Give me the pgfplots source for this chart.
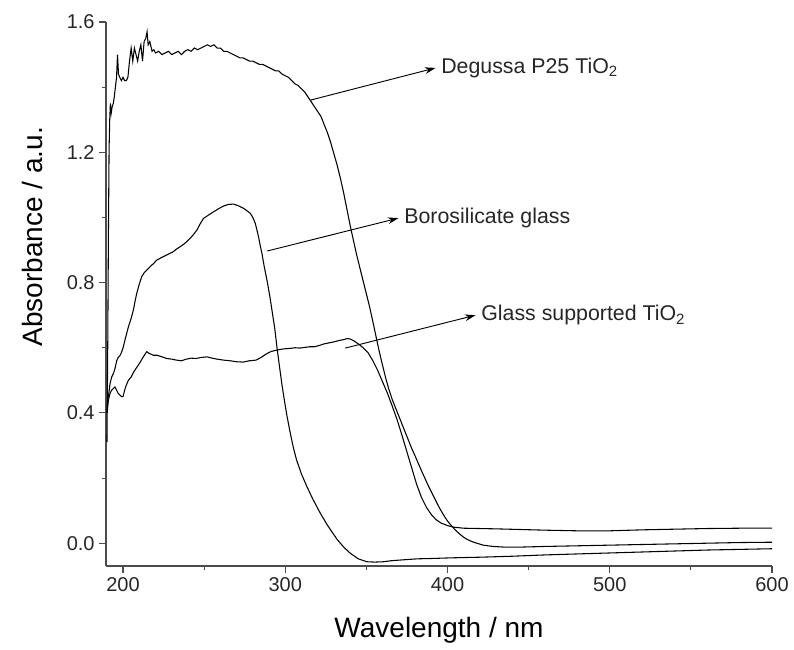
\documentclass[border=0pt]{standalone}
\usepackage{fontspec}
\setmainfont{Liberation Sans}
\usepackage{pgfplots}
\pgfplotsset{compat=1.18}
\usetikzlibrary{arrows.meta}
\begin{document}
\begin{tikzpicture}
\path[use as bounding box] (-79.5pt,-63pt) rectangle (516pt,424.5pt);
\begin{axis}[
  at={(0pt,0pt)}, anchor=south west,
  scale only axis, width=499.5pt, height=408pt,
  xmin=189.5, xmax=600, ymin=-0.07, ymax=1.6,
  axis lines*=left,
  axis line style={black!70, line width=0.8pt},
  tick align=outside,
  major tick length=5pt, minor tick length=3pt,
  tick style={black!70, line width=0.8pt},
  xtick={200,300,400,500,600}, minor xtick={250,350,450,550},
  ytick={0,0.4,0.8,1.2,1.6}, minor ytick={0.2,0.6,1.0,1.4},
  yticklabel style={/pgf/number format/fixed, /pgf/number format/fixed zerofill, /pgf/number format/precision=1},
  /pgf/number format/assume math mode=true,
  ticklabel style={font=\fontsize{15}{18}\selectfont, text=black!85},
  xlabel={Wavelength / nm}, ylabel={Absorbance / a.u.},
  label style={font=\fontsize{21}{25}\selectfont},
  xlabel style={at={(axis description cs:0.5,-0.118)}, anchor=center},
  ylabel style={at={(axis description cs:-0.11,0.605)}, anchor=center},
  clip=false,
]
% Degussa P25 TiO2
\addplot[black, line width=0.8pt] coordinates {
(190.1,0.31) (190.6,0.62) (191.0,0.95) (191.4,1.21) (191.8,1.30) (192.2,1.35) (192.7,1.32)
(193.3,1.34) (194.0,1.35) (194.6,1.37) (195.3,1.40) (196.0,1.43) (196.6,1.50) (197.2,1.44)
(198.0,1.43) (199.0,1.42) (200.0,1.43) (201.0,1.42) (202.0,1.42) (203.0,1.43) (204.0,1.48)
(205.0,1.52) (206.0,1.48) (207.0,1.52) (208.0,1.50) (209.0,1.48) (210.0,1.51) (211.0,1.53)
(212.0,1.48) (213.0,1.54) (214.0,1.55) (214.8,1.57) (215.5,1.53) (216.5,1.54) (217.9,1.51)
(219,1.515) (220,1.505) (222,1.51) (224,1.50) (226,1.505) (228,1.51) (230,1.50) (232,1.505)
(234,1.51) (236,1.50) (238,1.51) (240,1.515) (242,1.51) (244,1.52) (246,1.515) (248,1.52)
(250,1.525) (252,1.53) (254,1.525) (256,1.53) (258,1.52) (260,1.52) (262,1.51) (264,1.51)
(266,1.505) (268,1.50) (270,1.495) (272,1.49) (274,1.49) (276,1.485) (278,1.48) (280,1.48)
(282,1.475) (284,1.47) (286,1.47) (288,1.465) (290,1.46) (292,1.455) (294,1.45) (296,1.45)
(298,1.44) (300,1.435) (302,1.43) (304,1.42) (306,1.41) (308,1.405) (310,1.395) (312,1.385)
(314,1.37) (316,1.355) (318,1.34) (320,1.325) (322,1.31) (324,1.285) (326,1.26) (328,1.23)
(330,1.195) (332,1.16) (334,1.12) (336,1.075) (338,1.025) (340,0.975) (342,0.93) (344,0.885)
(346,0.845) (348,0.805) (350,0.765) (352,0.725) (354,0.68) (356,0.633) (358,0.587) (360,0.545)
(362,0.505) (364,0.47) (366,0.44) (368,0.415) (370,0.39) (372,0.365) (374,0.34) (376,0.315)
(378,0.29) (380,0.268) (382,0.245) (384,0.222) (386,0.20) (388,0.178) (390,0.158) (392,0.138)
(394,0.118) (396,0.10) (398,0.083) (400,0.068) (402,0.056) (404,0.045) (406,0.035) (408,0.026)
(410,0.018) (412,0.012) (415,0.005) (418,0.0) (422,-0.006) (428,-0.010) (435,-0.012)
(445,-0.012) (460,-0.010) (480,-0.008) (500,-0.006) (520,-0.004) (540,-0.002) (560,0.000)
(580,0.002) (600,0.003)
};
% Borosilicate glass
\addplot[black, line width=0.8pt] coordinates {
(190.1,0.40) (190.5,0.44) (191,0.45) (191.5,0.47) (192,0.49) (193,0.51) (194,0.52) (195,0.535)
(196.1,0.56) (197,0.57) (198,0.575) (199,0.585) (200.2,0.603) (201.5,0.63) (203.3,0.664)
(205,0.69) (206.4,0.716) (207.5,0.745) (208.5,0.768) (210,0.795) (211.5,0.818) (213,0.83)
(215,0.84) (216.7,0.849) (218.7,0.858) (220.8,0.869) (223,0.875) (225,0.88) (227,0.885)
(229,0.89) (231,0.895) (233,0.903) (235.2,0.91) (238,0.92) (241.4,0.936) (243.5,0.948)
(245.5,0.961) (247.5,0.98) (249.6,0.997) (252,1.005) (255.7,1.017) (259,1.027) (261.9,1.035)
(265,1.04) (268.1,1.041) (271,1.036) (274.3,1.028) (276.5,1.02) (278.4,1.013) (280,1.0)
(281.5,0.982) (282.5,0.962) (283.5,0.941) (284.5,0.915) (285.6,0.89) (287,0.85) (288.7,0.808)
(290.5,0.757) (291.8,0.715) (293.5,0.66) (294.9,0.60) (296.5,0.54) (298,0.485) (299.5,0.437)
(301,0.392) (303,0.34) (305,0.293) (307,0.255) (310,0.212) (313.4,0.173) (317,0.135)
(321.6,0.092) (326,0.055) (331.9,0.012) (336,-0.012) (340.1,-0.031) (345,-0.048) (350.4,-0.057)
(355,-0.058) (360.5,-0.057) (365,-0.054) (370,-0.052) (381.3,-0.048) (390,-0.047) (401.9,-0.045)
(420,-0.043) (440,-0.040) (460,-0.036) (480,-0.033) (500,-0.030) (520,-0.027) (540,-0.024)
(560,-0.021) (580,-0.019) (600,-0.017)
};
% Glass supported TiO2
\addplot[black, line width=0.8pt] coordinates {
(190.2,0.40) (191,0.44) (192,0.46) (193,0.47) (194,0.475) (195,0.48) (196,0.47) (197,0.46)
(198,0.455) (199,0.45) (200,0.45) (201,0.47) (202,0.485) (203.3,0.50) (205,0.51) (206.5,0.525)
(208.5,0.54) (210.5,0.555) (212.5,0.572) (214.6,0.588) (216,0.583) (218.7,0.577) (221,0.577)
(224,0.572) (227,0.567) (230,0.565) (233,0.562) (236,0.56) (239,0.565) (242,0.568) (245,0.567)
(248,0.57) (251.7,0.572) (255,0.568) (258,0.565) (262,0.562) (266,0.56) (270,0.557) (274,0.556)
(278,0.56) (282,0.562) (285,0.57) (288,0.58) (291,0.588) (294,0.592) (297,0.595) (300,0.597)
(303,0.598) (306,0.60) (309,0.599) (312,0.601) (315,0.603) (318,0.603) (321,0.607) (324,0.612)
(327,0.615) (330,0.618) (333,0.622) (336,0.625) (338,0.628) (340,0.627) (342,0.622) (345,0.612)
(348,0.60) (351,0.585) (354,0.56) (357,0.53) (360,0.495) (363,0.46) (366,0.42) (369,0.378)
(372,0.33) (375,0.28) (378,0.23) (381,0.18) (384,0.14) (387,0.11) (390,0.088) (393,0.072)
(396,0.062) (400,0.054) (404,0.049) (410,0.046) (420,0.045) (430,0.044) (445,0.042) (460,0.040)
(480,0.038) (500,0.038) (520,0.041) (540,0.043) (560,0.045) (580,0.046) (600,0.046)
};
\draw[line width=0.7pt, -{Stealth[length=8pt,width=5pt]}] (axis cs:315.4,1.36) -- (axis cs:392.6,1.459)
  node[right, inner sep=4pt, font=\fontsize{16}{19}\selectfont, text=black!85] {Degussa P25 TiO\textsubscript{2}};
\draw[line width=0.7pt, -{Stealth[length=8pt,width=5pt]}] (axis cs:288.9,0.897) -- (axis cs:369.8,0.998)
  node[right, inner sep=4pt, font=\fontsize{16}{19}\selectfont, text=black!85] {Borosilicate glass};
\draw[line width=0.7pt, -{Stealth[length=8pt,width=5pt]}] (axis cs:337,0.599) -- (axis cs:417.3,0.700)
  node[right, inner sep=4pt, font=\fontsize{16}{19}\selectfont, text=black!85] {Glass supported TiO\textsubscript{2}};
\end{axis}
\end{tikzpicture}
\end{document}
